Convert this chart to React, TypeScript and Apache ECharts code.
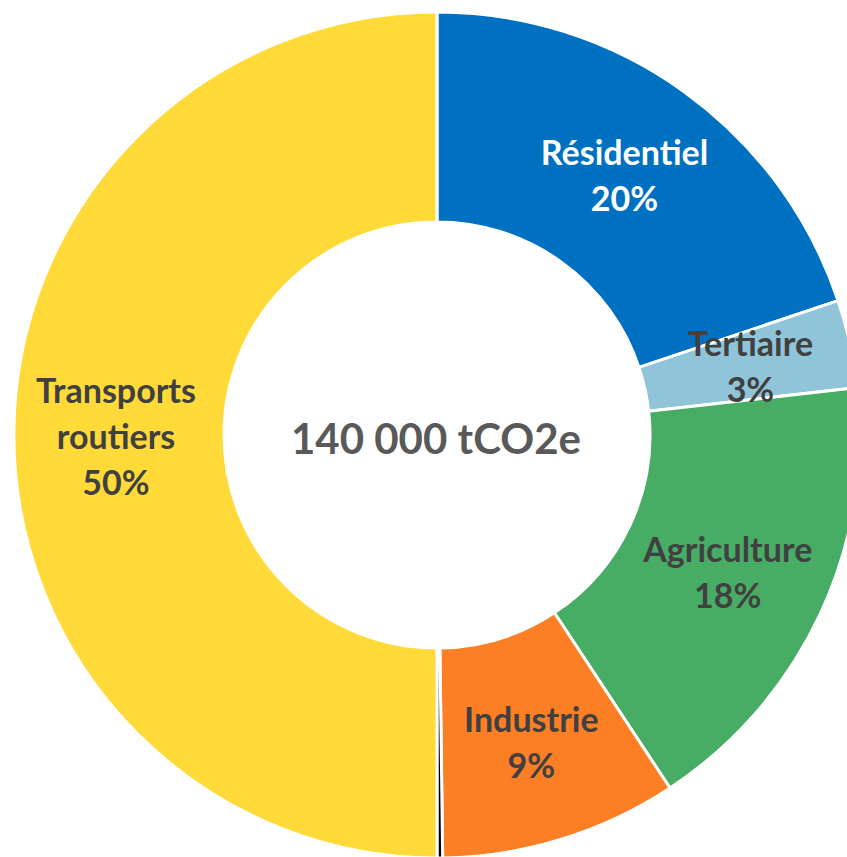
import React, { useEffect, useRef } from "react";
import * as echarts from "echarts";

const categories = ["Résidentiel", "Tertiaire", "Agriculture", "Industrie", "Déchets", "Transports\nroutiers"];
const values = [27800, 4700, 24500, 12700, 300, 70000];
const colors = ["#0070C0", "#8FC4D9", "#48AD64", "#FC7E25", "#000000", "#FFDA38"];
const labelColors = ["#FFFFFF", "#404040", "#404040", "#404040", "#404040", "#404040"];
const showLabel = [true, true, true, true, false, true];
const centerText = "140 000 tCO2e";

export default function App() {
  const ref = useRef<HTMLDivElement>(null);
  useEffect(() => {
    const chart = echarts.init(ref.current!, null, { renderer: "svg" });
    const total = values.reduce((a, b) => a + b, 0);
    chart.setOption({
      animation: false,
      backgroundColor: "#FFFFFF",
      title: {
        text: centerText,
        left: 431,
        top: 433,
        textAlign: "center",
        textVerticalAlign: "middle",
        textStyle: {
          fontFamily: "Lato, 'Open Sans', sans-serif",
          fontWeight: "bold",
          fontSize: 42,
          color: "#595959",
        },
      },
      series: [
        {
          type: "pie",
          center: [437, 435],
          radius: [213, 423],
          startAngle: 90,
          clockwise: true,
          avoidLabelOverlap: false,
          itemStyle: { borderColor: "#FFFFFF", borderWidth: 3 },
          emphasis: { disabled: true },
          label: {
            position: "inside",
            fontFamily: "Lato, 'Open Sans', sans-serif",
            fontWeight: "bold",
            fontSize: 34,
            lineHeight: 46,
            formatter: (p: any) => `${p.name}\n${Math.round((p.value / total) * 100)}%`,
          },
          labelLine: { show: false },
          data: categories.map((name, i) => ({
            name,
            value: values[i],
            itemStyle: { color: colors[i] },
            label: { show: showLabel[i], color: labelColors[i] },
          })),
        },
      ],
    });
    return () => chart.dispose();
  }, []);
  return <div ref={ref} style={{ position: "fixed", left: 0, top: 0, width: 847, height: 857 }} />;
}
